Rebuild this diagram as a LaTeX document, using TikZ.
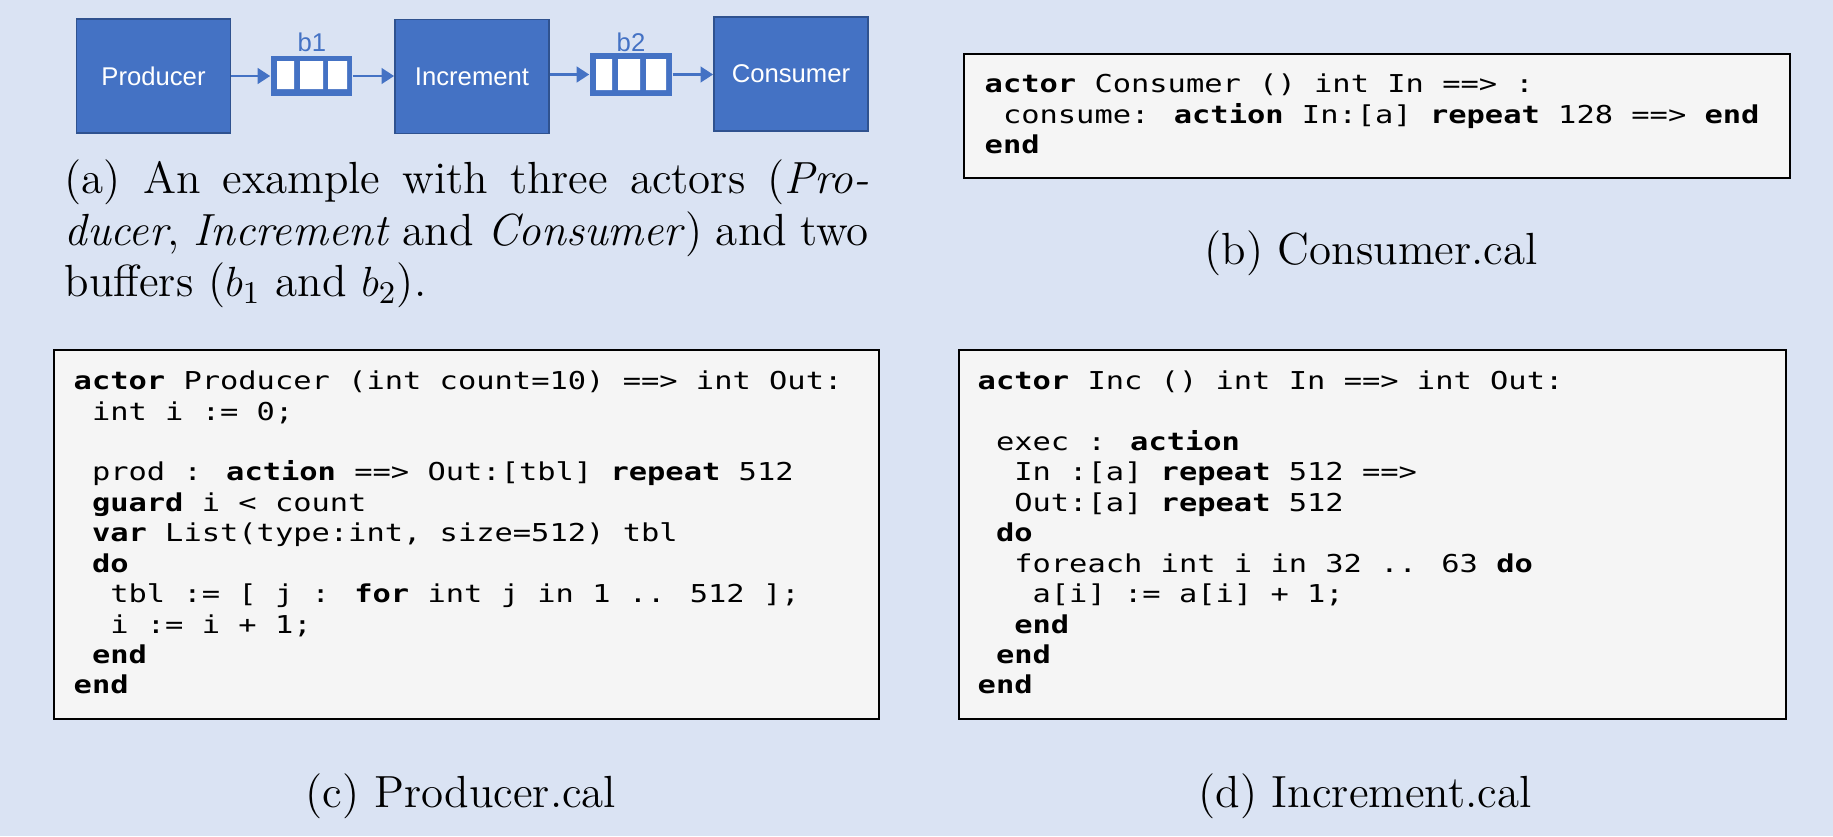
\documentclass[tikz,border=0pt]{standalone}
\usepackage{fontspec}
\usetikzlibrary{arrows.meta}
\newfontfamily\codefont[FakeStretch=1.235]{DejaVu Sans Mono}
\newfontfamily\diagfont{Liberation Sans}
\definecolor{bgcol}{HTML}{DAE3F3}
\definecolor{actblue}{HTML}{4472C4}
\definecolor{actedge}{HTML}{2F528F}
\definecolor{codebg}{HTML}{F5F5F5}
\newcommand\kw[1]{\textbf{#1}}
\newcommand\ind[1]{\phantom{#1}}
\newcommand\firstline{\rule{0pt}{7pt}}
\newcommand\capline{\rule{0pt}{10pt}}
\begin{document}
\begin{tikzpicture}[x=0.01cm,y=-0.01cm,
  actorbox/.style={draw=actedge, line width=0.45pt, fill=actblue, text=white,
    font=\diagfont\fontsize{7.3}{8}\selectfont, inner sep=0pt,
    minimum width=1.54cm, minimum height=1.14cm},
  bufbox/.style={fill=actblue, inner sep=0pt},
  buflabel/.style={text=actblue, font=\diagfont\fontsize{7.3}{8}\selectfont, inner sep=0pt},
  conn/.style={draw=actblue, line width=0.85pt, -{Triangle[length=3.6pt,width=4.4pt]}},
  codebox/.style={draw=black, line width=0.6pt, fill=codebg, inner sep=0pt},
  codetext/.style={anchor=north west, inner sep=0pt, align=left,
    font=\codefont\fontsize{7.0}{8.65}\selectfont},
  captext/.style={inner sep=0pt, font=\fontsize{12.8}{14.65}\selectfont},
]
\useasboundingbox (0,0) rectangle (1833,836);
\fill[bgcol] (0,0) rectangle (1833,836);

% (a) diagram
\node[actorbox] (prod) at (153.5,76) {Producer};
\node[actorbox] (inc) at (472,76.5) {Increment};
\node[actorbox] (cons) at (791,74) {Consumer};
\node[bufbox, minimum width=0.81cm, minimum height=0.39cm] (b1) at (311.5,76) {};
\node[bufbox, minimum width=0.82cm, minimum height=0.42cm] (b2) at (631,74.5) {};
\fill[white] (277,61) rectangle (294,89) (300,61) rectangle (323,89) (328,61) rectangle (347,89);
\fill[white] (596,59) rectangle (612,90) (618,59) rectangle (640,90) (646,59) rectangle (666,90);
\node[buflabel] (lb1) at (312,42) {b1};
\node[buflabel] (lb2) at (631,42) {b2};
\draw[conn] (prod.east |- b1.west) -- (b1.west);
\draw[conn] (b1.east) -- (b1.east -| inc.west);
\draw[conn] (inc.east |- b2.west) -- (b2.west);
\draw[conn] (b2.east) -- (b2.east -| cons.west);

% caption (a)
\node[captext, anchor=north west, align=left] (capa) at (64,157.85) {%
\capline\makebox[228.7pt][s]{(a) An example with three actors (\textit{Pro-}}\\
\makebox[228.7pt][s]{\textit{ducer}, \textit{Increment} and \textit{Consumer}) and two}\\
buffers ($b_1$ and $b_2$).};

% (b) Consumer.cal
\node[codebox, minimum width=8.26cm, minimum height=1.24cm] (cbox) at (1377,116) {};
\node[codetext] (ctext) at (984,67.4) {%
\firstline\kw{actor} Consumer () int In ==> :\\
\ind{x}consume: \kw{action} In:[a] \kw{repeat} 128 ==> \kw{end}\\
\kw{end}};
\node[captext, anchor=base] (capb) at (1371,264) {(b) Consumer.cal};

% (c) Producer.cal
\node[codebox, minimum width=8.25cm, minimum height=3.69cm] (pbox) at (466.5,534.5) {};
\node[codetext] (ptext) at (73,364.4) {%
\firstline\kw{actor} Producer (int count=10) ==> int Out:\\
\ind{x}int i := 0;\\
\mbox{}\\
\ind{x}prod : \kw{action} ==> Out:[tbl] \kw{repeat} 512\\
\ind{x}\kw{guard} i < count\\
\ind{x}\kw{var} List(type:int, size=512) tbl\\
\ind{x}\kw{do}\\
\ind{xx}tbl := [ j : \kw{for} int j in 1 .. 512 ];\\
\ind{xx}i := i + 1;\\
\ind{x}\kw{end}\\
\kw{end}};
\node[captext, anchor=base] (capc) at (461,807) {(c) Producer.cal};

% (d) Increment.cal
\node[codebox, minimum width=8.27cm, minimum height=3.69cm] (ibox) at (1372.5,534.5) {};
\node[codetext] (itext) at (977,364.4) {%
\firstline\kw{actor} Inc () int In ==> int Out:\\
\mbox{}\\
\ind{x}exec : \kw{action}\\
\ind{xx}In :[a] \kw{repeat} 512 ==>\\
\ind{xx}Out:[a] \kw{repeat} 512\\
\ind{x}\kw{do}\\
\ind{xx}foreach int i in 32 .. 63 \kw{do}\\
\ind{xxx}a[i] := a[i] + 1;\\
\ind{xx}\kw{end}\\
\ind{x}\kw{end}\\
\kw{end}};
\node[captext, anchor=base] (capd) at (1365,807) {(d) Increment.cal};
\end{tikzpicture}
\end{document}
